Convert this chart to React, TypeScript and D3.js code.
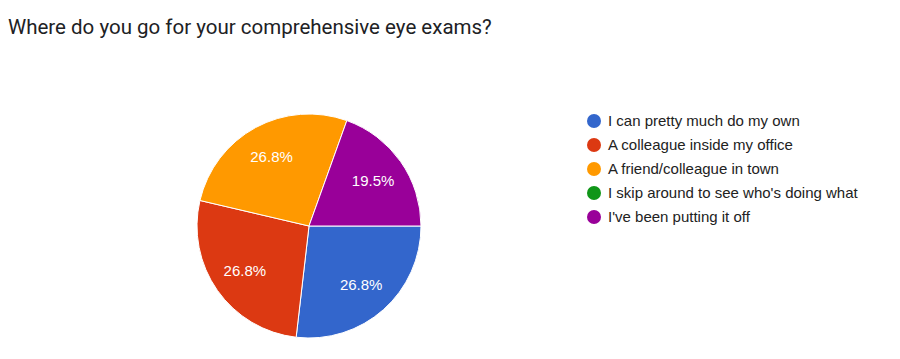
import React from "react";
import * as d3 from "d3";

const categories = [
  "I can pretty much do my own",
  "A colleague inside my office",
  "A friend/colleague in town",
  "I skip around to see who's doing what",
  "I've been putting it off",
];
const counts = [11, 11, 11, 0, 8];
const colors = ["#3366cc", "#dc3912", "#ff9900", "#109618", "#990099"];
const title = "Where do you go for your comprehensive eye exams?";

export default function App() {
  const W = 900, H = 359;
  const cx = 301, cy = 218, r = 112;
  const total = d3.sum(counts);
  const pie = d3
    .pie<number>()
    .sort(null)
    .startAngle(Math.PI / 2)
    .endAngle(Math.PI / 2 + 2 * Math.PI)
    .value((d) => d);
  const arcs = pie(counts);
  const arc = d3.arc<d3.PieArcDatum<number>>().innerRadius(0).outerRadius(r);
  const labelArc = d3.arc<d3.PieArcDatum<number>>().innerRadius(r * 0.7).outerRadius(r * 0.7);
  const fmt = d3.format(".1%");
  return (
    <svg width={W} height={H} style={{ display: "block", position: "absolute", left: 0, top: 0 }}>
      <rect width={W} height={H} fill="#fff" />
      <text x={8} y={34} fontFamily="Roboto" fontSize={20.5} fill="#202124">
        {title}
      </text>
      <g transform={`translate(${cx + 8},${cy + 8})`}>
        {arcs.map((a, i) =>
          a.value > 0 ? (
            <path key={i} d={arc(a) || ""} fill={colors[i]} stroke="#fff" strokeWidth={1} />
          ) : null
        )}
        {arcs.map((a, i) => {
          if (a.value <= 0) return null;
          const [lx, ly] = labelArc.centroid(a);
          return (
            <text
              key={"l" + i}
              x={lx}
              y={ly}
              dy="0.35em"
              textAnchor="middle"
              fontFamily="Arial, Liberation Sans"
              fontSize={15}
              fill="#fff"
            >
              {fmt(a.value / total)}
            </text>
          );
        })}
      </g>
      <g>
        {categories.map((c, i) => (
          <g key={c} transform={`translate(594,${121 + i * 24})`}>
            <circle r={7} fill={colors[i]} />
            <text x={14} dy="0.35em" fontFamily="Arial, Liberation Sans" fontSize={15} fill="#222">
              {c}
            </text>
          </g>
        ))}
      </g>
    </svg>
  );
}
